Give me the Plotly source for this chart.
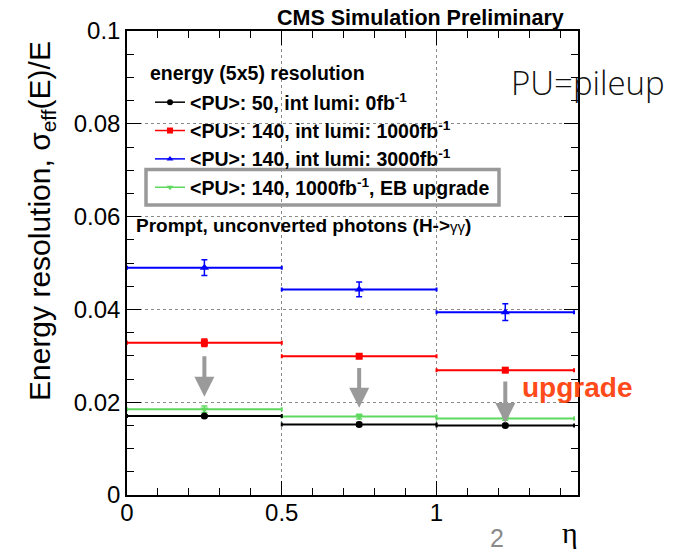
import plotly.graph_objects as go

# ---------------- data ----------------
eta_center = [0.25, 0.75, 1.2221]
eta_halfwidth = [0.25, 0.25, 0.2221]

res_pu50 = [0.0170, 0.0152, 0.0150]
err_pu50 = [0.0003, 0.0004, 0.0003]

res_pu140_1000 = [0.0328, 0.0299, 0.0269]
err_pu140_1000 = [0.0008, 0.0004, 0.0003]

res_pu140_3000 = [0.0490, 0.0443, 0.0394]
err_pu140_3000 = [0.0017, 0.0016, 0.0018]

res_pu140_upg = [0.0185, 0.0169, 0.0165]
err_pu140_upg = [0.0007, 0.0005, 0.0004]

arrow_top = [0.0302, 0.0277, 0.0248]
arrow_tip = [0.0212, 0.0188, 0.0155]

series_names = [
    "&lt;PU&gt;: 50, int lumi: 0fb<sup>-1</sup>",
    "&lt;PU&gt;: 140, int lumi: 1000fb<sup>-1</sup>",
    "&lt;PU&gt;: 140, int lumi: 3000fb<sup>-1</sup>",
    "&lt;PU&gt;: 140, 1000fb<sup>-1</sup>, EB upgrade",
]
series_colors = ["#000000", "#ff0000", "#0000ff", "#5fd85f"]
series_symbols = ["circle", "square", "triangle-up", "triangle-down"]
series_sizes = [7, 7, 8, 7]

x_tickvals = [0, 0.5, 1]
x_ticktext = ["0", "0.5", "1"]
y_tickvals = [0, 0.02, 0.04, 0.06, 0.08, 0.1]
y_ticktext = ["0", "0.02", "0.04", "0.06", "0.08", "0.1"]

# ---------------- layout geometry ----------------
W, H = 682, 552
ML, MR, MT, MB = 127, 104, 31, 57
PW, PH = W - ML - MR, H - MT - MB


def X(px):
    return (px - ML) / PW


def Y(py):
    return (H - MB - py) / PH


FONT = "Liberation Sans, Arial, Helvetica, sans-serif"

fig = go.Figure()

values = [res_pu50, res_pu140_1000, res_pu140_3000, res_pu140_upg]
errors = [err_pu50, err_pu140_1000, err_pu140_3000, err_pu140_upg]

draw_order = [3, 0, 1, 2]
for i in draw_order:
    fig.add_trace(go.Scatter(
        x=eta_center, y=values[i], mode="markers",
        marker=dict(color=series_colors[i], symbol=series_symbols[i], size=series_sizes[i]),
        error_x=dict(type="data", array=eta_halfwidth, color=series_colors[i], thickness=2, width=2),
        error_y=dict(type="data", array=errors[i], color=series_colors[i], thickness=1.5, width=3),
        showlegend=False, hoverinfo="skip",
    ))

# legend entries (line + marker samples)
for i in range(4):
    fig.add_trace(go.Scatter(
        x=[None], y=[None], mode="lines+markers", name=series_names[i],
        line=dict(color=series_colors[i], width=1.5),
        marker=dict(color=series_colors[i], symbol=series_symbols[i], size=6),
    ))

annotations = []
for xa, yt, yh in zip(eta_center, arrow_top, arrow_tip):
    annotations.append(dict(
        x=xa, y=yh, ax=xa, ay=yt, xref="x", yref="y", axref="x", ayref="y",
        text="", showarrow=True, arrowhead=2, arrowsize=1, arrowwidth=4,
        arrowcolor="#9a9a9a", standoff=0, startstandoff=0,
    ))

annotations += [
    dict(x=X(566), y=Y(18), xref="paper", yref="paper", xanchor="right", yanchor="middle",
         text="CMS Simulation Preliminary", showarrow=False,
         font=dict(family=FONT, size=21.5, color="black", weight="bold")),
    dict(x=X(587.5), y=Y(82), xref="paper", yref="paper", xanchor="center", yanchor="middle",
         text="PU=pileup", showarrow=False,
         font=dict(family="Open Sans, Roboto, Liberation Sans, sans-serif", size=33, color="#111", weight=300)),
    dict(x=X(520), y=Y(387), xref="paper", yref="paper", xanchor="left", yanchor="middle",
         text="upgrade", showarrow=False,
         font=dict(family=FONT, size=28, color="#ff4a1a", weight="bold")),
    dict(x=X(148), y=Y(72.5), xref="paper", yref="paper", xanchor="left", yanchor="middle",
         text="energy (5x5) resolution", showarrow=False,
         font=dict(family=FONT, size=19.5, color="black", weight="bold")),
    dict(x=X(134), y=Y(225), xref="paper", yref="paper", xanchor="left", yanchor="middle",
         text="<b>Prompt, unconverted photons (H-&gt;</b><span style='font-size:15px'>γγ</span><b>)</b>",
         showarrow=False, font=dict(family=FONT, size=19, color="black")),
    dict(x=X(497), y=Y(538), xref="paper", yref="paper", xanchor="center", yanchor="middle",
         text="2", showarrow=False, font=dict(family=FONT, size=25, color="#8a8a8a")),
    dict(x=X(570), y=Y(551), xref="paper", yref="paper", xanchor="center", yanchor="bottom",
         text="η", showarrow=False, font=dict(family="Liberation Serif, serif", size=30, color="black")),
    dict(x=X(42), y=Y(221), xref="paper", yref="paper", xanchor="center", yanchor="middle",
         text="Energy resolution, σ<sub>eff</sub>(E)/E", textangle=-90, showarrow=False,
         font=dict(family=FONT, size=30, color="black")),
]

shapes = [
    dict(type="rect", xref="paper", yref="paper", x0=X(146), x1=X(499), y0=Y(205), y1=Y(169.5),
         line=dict(color="#999999", width=3.5), fillcolor="rgba(0,0,0,0)"),
]

axis_common = dict(
    showline=True, linecolor="black", linewidth=1.5, mirror="ticks",
    ticks="inside", tickcolor="black", tickwidth=1,
    showgrid=True, gridcolor="#8a8a8a", griddash="dot", gridwidth=1,
    zeroline=False, tickfont=dict(family=FONT, size=24, color="black"),
)

fig.update_layout(
    width=W, height=H, margin=dict(l=ML, r=MR, t=MT, b=MB),
    paper_bgcolor="white", plot_bgcolor="white",
    xaxis=dict(range=[0, 1.457], tickvals=x_tickvals, ticktext=x_ticktext, ticklen=14,
               ticklabelstandoff=-5,
               minor=dict(dtick=0.1, tick0=0, ticks="inside", ticklen=7, tickcolor="black", showgrid=False),
               **axis_common),
    yaxis=dict(range=[0, 0.1], tickvals=y_tickvals, ticktext=y_ticktext, ticklen=14,
               minor=dict(dtick=0.005, tick0=0, ticks="inside", ticklen=7, tickcolor="black", showgrid=False),
               **axis_common),
    legend=dict(x=X(150), y=Y(83), xanchor="left", yanchor="top", bgcolor="rgba(0,0,0,0)",
                borderwidth=0, tracegroupgap=0,
                font=dict(family=FONT, size=19.5, color="black", weight="bold")),
    annotations=annotations, shapes=shapes,
)

fig.write_html("out.html")
